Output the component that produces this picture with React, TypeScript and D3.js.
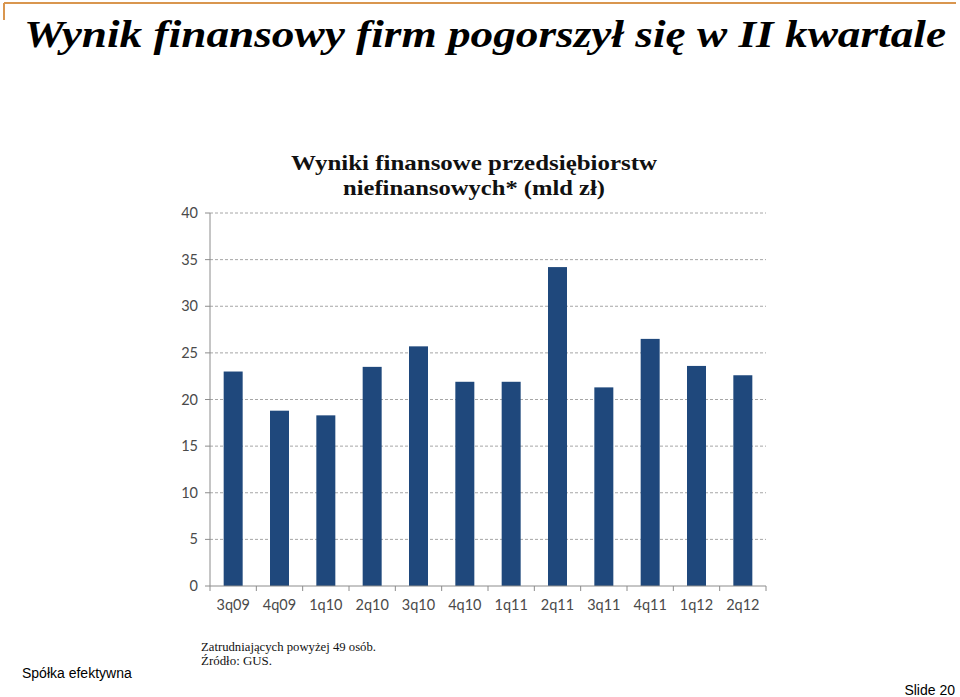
import React from "react";
import * as d3 from "d3";

const categories = ["3q09", "4q09", "1q10", "2q10", "3q10", "4q10", "1q11", "2q11", "3q11", "4q11", "1q12", "2q12"];
const values = [23.0, 18.8, 18.3, 23.5, 25.7, 21.9, 21.9, 34.2, 21.3, 26.5, 23.6, 22.6];
const yTicks = [0, 5, 10, 15, 20, 25, 30, 35, 40];

export default function App() {
  const W = 960, H = 697;
  const x0 = 210, x1 = 766, yTop = 213, yBot = 586;
  const x = d3.scaleBand().domain(categories).range([x0, x1]).paddingInner(0.59).paddingOuter(0.295);
  const y = d3.scaleLinear().domain([0, 40]).range([yBot, yTop]);
  const step = (x1 - x0) / categories.length;
  const sans = "Lato, 'Open Sans', 'Liberation Sans', Arial, sans-serif";
  const serif = "'Liberation Serif', 'DejaVu Serif', serif";
  return (
    <svg width={W} height={H} style={{ position: "absolute", left: 0, top: 0, background: "#fff" }}>
      <rect x={0} y={0} width={W} height={H} fill="#fff" />
      <line x1={4} y1={3} x2={956} y2={3} stroke="#D9964F" strokeWidth={2} />
      <line x1={4} y1={3} x2={4} y2={20} stroke="#D9964F" strokeWidth={2} />
      <text x={24} y={47} fontFamily={serif} fontWeight="bold" fontStyle="italic" fontSize={38} textLength={922} lengthAdjust="spacingAndGlyphs" fill="#000">Wynik finansowy firm pogorszył się w II kwartale</text>
      <text x={291} y={170} fontFamily={serif} fontWeight="bold" fontSize={22} textLength={366} lengthAdjust="spacingAndGlyphs" fill="#111">Wyniki finansowe przedsiębiorstw</text>
      <text x={343} y={195} fontFamily={serif} fontWeight="bold" fontSize={22} textLength={262} lengthAdjust="spacingAndGlyphs" fill="#111">niefinansowych* (mld zł)</text>
      {yTicks.filter(t => t > 0).map(t => (
        <line key={"g" + t} x1={x0} x2={x1} y1={y(t)} y2={y(t)} stroke="#A6A6A6" strokeWidth={1} strokeDasharray="3,2" />
      ))}
      {yTicks.map(t => (
        <g key={"t" + t}>
          <line x1={x0 - 5} x2={x0} y1={y(t)} y2={y(t)} stroke="#8C8C8C" />
          <text x={198} y={y(t) + 5} textAnchor="end" fontFamily={sans} fontSize={14.5} fill="#4A4A4A">{t}</text>
        </g>
      ))}
      {categories.map((c, i) => (
        <rect key={c} x={x(c)} y={y(values[i])} width={x.bandwidth()} height={yBot - y(values[i])} fill="#1F487C" />
      ))}
      <line x1={x0} x2={x0} y1={yTop} y2={yBot} stroke="#8C8C8C" />
      <line x1={x0} x2={x1} y1={yBot} y2={yBot} stroke="#8C8C8C" />
      {d3.range(categories.length + 1).map(i => (
        <line key={"xt" + i} x1={x0 + i * step} x2={x0 + i * step} y1={yBot} y2={yBot + 5} stroke="#8C8C8C" />
      ))}
      {categories.map(c => (
        <text key={"l" + c} x={(x(c) as number) + x.bandwidth() / 2} y={610} textAnchor="middle" fontFamily={sans} fontSize={14.5} fill="#4A4A4A">{c}</text>
      ))}
      <text x={201} y={651} fontFamily={serif} fontSize={13} textLength={175} lengthAdjust="spacingAndGlyphs" fill="#111">Zatrudniających powyżej 49 osób.</text>
      <text x={201} y={665} fontFamily={serif} fontSize={13} textLength={71} lengthAdjust="spacingAndGlyphs" fill="#111">Źródło:  GUS.</text>
      <text x={22} y={678} fontFamily="'Liberation Sans', Arial, sans-serif" fontSize={14} fill="#000">Spółka efektywna</text>
      <text x={955} y={695} textAnchor="end" fontFamily="'Liberation Sans', Arial, sans-serif" fontSize={14} fill="#000">Slide 20</text>
    </svg>
  );
}
